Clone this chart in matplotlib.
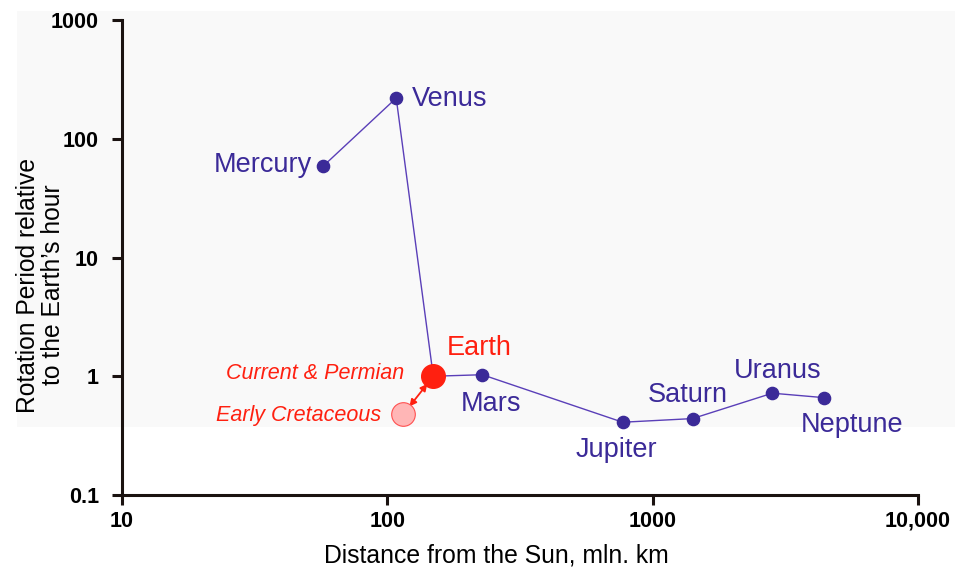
import numpy as np
import matplotlib.pyplot as plt
from matplotlib.patches import Rectangle

plt.rcParams['font.family'] = ['Liberation Sans', 'DejaVu Sans']

# =========================
# DATA
# =========================

planets = ["Mercury", "Venus", "Earth", "Mars", "Jupiter", "Saturn", "Uranus", "Neptune"]
distance = [57.4, 108, 149, 228, 771, 1413, 2825, 4436]      # mln. km
rotation = [59, 220, 1.0, 1.03, 0.41, 0.44, 0.72, 0.66]      # relative period

cretaceous_distance = 115
cretaceous_rotation = 0.48

x_ticks = [10, 100, 1000, 10000]
x_tick_labels = ["10", "100", "1000", "10,000"]
y_ticks = [0.1, 1, 10, 100, 1000]
y_tick_labels = ["0.1", "1", "10", "100", "1000"]

# label offsets in pixels (dx, dy, ha)
label_pos = {
    "Mercury": (-11, 1, "right"),
    "Venus": (16, -1, "left"),
    "Earth": (13, 28, "left"),
    "Mars": (-22, -29, "left"),
    "Jupiter": (-6, -28, "center"),
    "Saturn": (-5, 24, "center"),
    "Uranus": (5, 22, "center"),
    "Neptune": (28, -27, "center"),
}

purple = "#3b2a98"
red = "#ff2010"

# =========================
# FIGURE
# =========================

fig = plt.figure(figsize=(9.62, 5.69), dpi=100)

ax = fig.add_axes([122 / 962, 1 - 495 / 569, (918 - 122) / 962, (495 - 20) / 569])
ax.set_facecolor("none")
ax.add_patch(Rectangle((17 / 962, 1 - 427 / 569), (955 - 17) / 962, (427 - 11) / 569,
                       transform=fig.transFigure, facecolor="#f9f9f9",
                       edgecolor="none", zorder=-10, clip_on=False))
ax.set_xscale("log")
ax.set_yscale("log")
ax.set_xlim(10, 10000)
ax.set_ylim(0.1, 1000)

# line through planets
ax.plot(distance, rotation, color="#5a3fb8", lw=1.0, zorder=2)

others = [i for i, p in enumerate(planets) if p != "Earth"]
ax.plot([distance[i] for i in others], [rotation[i] for i in others], "o",
        color=purple, ms=8.8, zorder=3)

e = planets.index("Earth")
ax.plot(distance[e], rotation[e], "o", color=red, ms=17, zorder=4)
ax.plot(cretaceous_distance, cretaceous_rotation, "o", color="#ffb6b6",
        mec="#ff5050", mew=0.8, ms=17, zorder=4)

# double arrow between Early Cretaceous and Earth
ax.annotate("", xy=(distance[e], rotation[e]),
            xytext=(cretaceous_distance, cretaceous_rotation),
            arrowprops=dict(arrowstyle="<|-|>", color=red, lw=1.3,
                            mutation_scale=10, shrinkA=7, shrinkB=7), zorder=3)

for i, name in enumerate(planets):
    dx, dy, ha = label_pos[name]
    ax.annotate(name, (distance[i], rotation[i]), xytext=(dx, dy),
                textcoords="offset pixels", ha=ha, va="center", fontsize=19.5,
                color=red if name == "Earth" else purple, zorder=5)

ax.annotate("Current & Permian", (distance[e], rotation[e]), xytext=(-29, 3),
            textcoords="offset pixels", ha="right", va="center", fontsize=15.5,
            style="italic", color=red)
ax.annotate("Early Cretaceous", (cretaceous_distance, cretaceous_rotation), xytext=(-22, -1),
            textcoords="offset pixels", ha="right", va="center", fontsize=15.5,
            style="italic", color=red)

# =========================
# AXES STYLE
# =========================

for side in ["top", "right"]:
    ax.spines[side].set_visible(False)
for side in ["left", "bottom"]:
    ax.spines[side].set_linewidth(2.2)
    ax.spines[side].set_color("#1a1210")

ax.set_xticks(x_ticks)
ax.set_xticklabels(x_tick_labels)
ax.set_yticks(y_ticks)
ax.set_yticklabels(y_tick_labels)
ax.minorticks_off()
ax.tick_params(axis="both", which="major", length=7.5, width=2.2, color="#1a1210",
               labelsize=15.5)
ax.tick_params(axis="x", pad=4)
ax.tick_params(axis="y", pad=9)
for lab in ax.get_xticklabels() + ax.get_yticklabels():
    lab.set_fontweight("bold")

ax.set_xlabel("Distance from the Sun, mln. km", fontsize=17.8)
ax.xaxis.set_label_coords(0.47, -0.103)
ax.set_ylabel("Rotation Period relative\nto the Earth\u2019s hour", fontsize=17.7,
              linespacing=1.1)
ax.yaxis.set_label_coords(-0.071, 0.442)

fig.savefig("out.png", dpi=100)
